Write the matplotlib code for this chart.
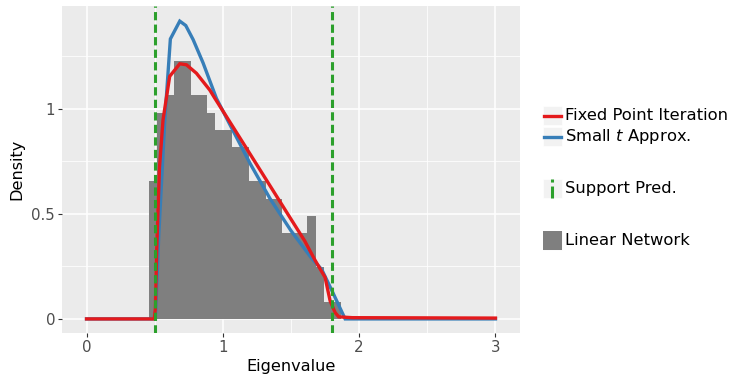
import matplotlib
matplotlib.use('Agg')
import matplotlib.pyplot as plt
from matplotlib.patches import Rectangle
from matplotlib.lines import Line2D

# histogram of the linear network eigenvalues (density)
bin_edges = [0.456, 0.517, 0.579, 0.640, 0.701, 0.763, 0.824, 0.885, 0.946, 1.008,
             1.069, 1.130, 1.192, 1.253, 1.314, 1.376, 1.437, 1.498, 1.559, 1.621,
             1.682, 1.743, 1.805, 1.866]
density = [0.655, 0.982, 1.064, 1.227, 1.227, 1.064, 1.064, 0.982, 0.900, 0.900,
           0.818, 0.818, 0.655, 0.655, 0.573, 0.573, 0.409, 0.409, 0.409, 0.491,
           0.245, 0.082, 0.082]

# fixed point iteration curve
fp_x = [0.0, 0.25, 0.497, 0.505, 0.515, 0.535, 0.561, 0.61, 0.684, 0.733, 0.806, 0.904,
        0.941, 1.027, 1.2, 1.382, 1.5, 1.6, 1.676, 1.75, 1.787, 1.824, 1.85, 1.95, 2.5, 3.0]
fp_y = [0.0, 0.0, 0.0, 0.05, 0.33, 0.72, 0.947, 1.155, 1.215, 1.21, 1.17, 1.09,
        1.051, 0.963, 0.785, 0.597, 0.475, 0.372, 0.28, 0.198, 0.086, 0.03, 0.01, 0.006, 0.005, 0.004]

# small t approximation curve
st_x = [0.0, 0.25, 0.505, 0.53, 0.574, 0.615, 0.684, 0.728, 0.782, 0.855, 0.953,
        1.04, 1.2, 1.346, 1.5, 1.65, 1.726, 1.80, 1.897, 2.0, 2.5, 3.0]
st_y = [0.0, 0.0, 0.0, 0.4, 0.947, 1.333, 1.418, 1.397, 1.33, 1.219, 1.05,
        0.94, 0.74, 0.573, 0.42, 0.29, 0.235, 0.135, 0.0, 0.0, 0.0, 0.0]

# predicted support edges
support = [0.5, 1.8]

red = '#E41A1C'
blue = '#377EB8'
green = '#2CA02C'
grey = '#7F7F7F'

fig = plt.figure(figsize=(7.32, 3.75), dpi=100)
ax = fig.add_axes([62 / 732, 1 - 333 / 375, 458 / 732, 327 / 375])
ax.set_facecolor('#EBEBEB')

widths = [bin_edges[i + 1] - bin_edges[i] for i in range(len(density))]
ax.bar(bin_edges[:-1], density, width=widths, align='edge', color=grey, linewidth=0, zorder=2)

ax.plot(st_x, st_y, color=blue, lw=2.4, zorder=3, solid_joinstyle='miter')
ax.plot(fp_x, fp_y, color=red, lw=2.4, zorder=4, solid_joinstyle='miter')
for s in support:
    ax.axvline(s, color=green, lw=2.2, linestyle=(0, (2.7, 1.4)), zorder=5)

ax.set_xlim(-0.18, 3.18)
ax.set_ylim(-0.067, 1.49)
ax.set_xticks([0, 1, 2, 3])
ax.set_xticks([0.5, 1.5, 2.5], minor=True)
ax.set_yticks([0, 0.5, 1])
ax.set_yticklabels(['0', '0.5', '1'])
ax.set_yticks([0.25, 0.75, 1.25], minor=True)
ax.grid(True, which='major', color='white', lw=1.1, zorder=0)
ax.grid(True, which='minor', color='white', lw=0.55, zorder=0)
ax.set_axisbelow(True)
for sp in ax.spines.values():
    sp.set_visible(False)
ax.tick_params(which='major', length=3, width=0.8, color='#333333',
               labelsize=10.8, labelcolor='#4D4D4D', pad=2)
ax.tick_params(which='minor', length=0)
ax.set_xlabel('Eigenvalue', fontsize=11.6, labelpad=3)
ax.set_ylabel('Density', fontsize=11.6, labelpad=5)

# legend drawn by hand in pixel coordinates
lg = fig.add_axes([0, 0, 1, 1])
lg.set_xlim(0, 732)
lg.set_ylim(375, 0)
lg.axis('off')
kx, kw = 543, 19
keys = [(106, 'Fixed Point Iteration'), (127, 'Small $t$ Approx.'),
        (179, 'Support Pred.'), (231, 'Linear Network')]
for i, (ky, label) in enumerate(keys):
    lg.add_patch(Rectangle((kx, ky), kw, 19, facecolor='#F2F2F2', edgecolor='white', lw=0.5))
    lg.text(565, ky + 9.5, label, fontsize=11.8, va='center', ha='left')
lg.add_line(Line2D([kx + 1, kx + kw - 1], [115.5, 115.5], color=red, lw=2.4))
lg.add_line(Line2D([kx + 1, kx + kw - 1], [136.5, 136.5], color=blue, lw=2.4))
lg.add_line(Line2D([kx + 9, kx + 9], [179, 198], color=green, lw=2.2, linestyle=(0, (1, 1.3, 6, 2))))
lg.add_patch(Rectangle((kx, 231), kw, 19, facecolor=grey, edgecolor='none'))

fig.savefig('out.png', dpi=100)
